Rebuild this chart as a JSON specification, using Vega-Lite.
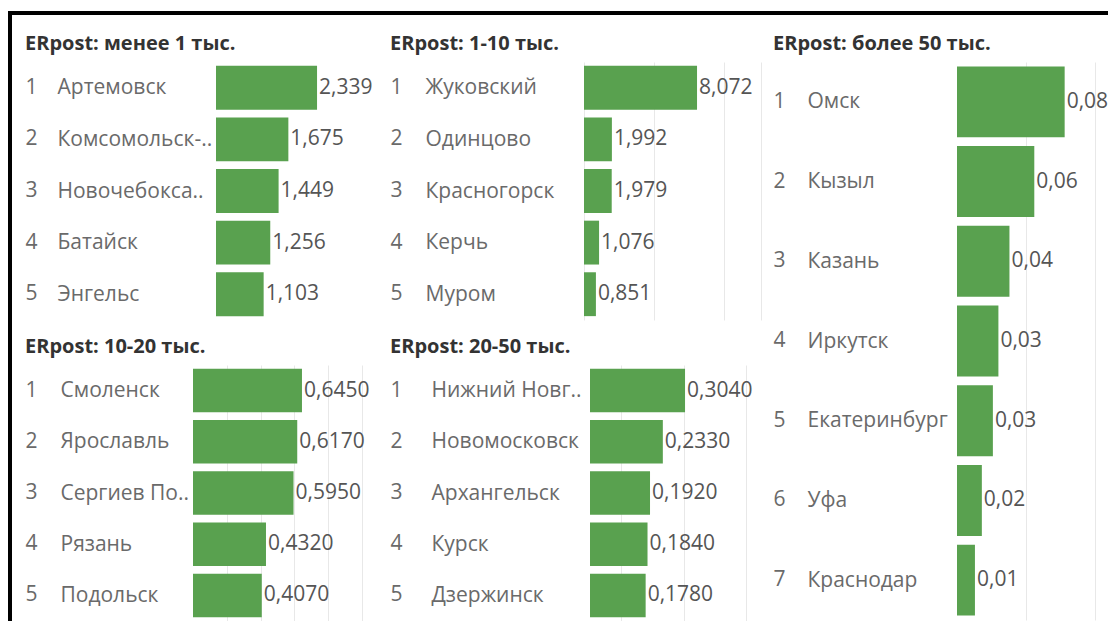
{
  "$schema": "https://vega.github.io/schema/vega-lite/v6.json",
  "autosize": {"type": "pad"},
  "padding": {"left": 8, "top": 11, "right": 0, "bottom": 0},
  "background": "white",
  "config": {
    "view": {"stroke": null},
    "locale": {"number": {"decimal": ",", "thousands": " ", "grouping": [3], "currency": ["", ""]}},
    "title": {"font": "Open Sans", "fontSize": 20, "fontWeight": "bold", "color": "#333333", "anchor": "start", "frame": "bounds", "offset": 8},
    "axis": {"labelFont": "Open Sans", "labelFontSize": 21, "labelColor": "#6a6a6a", "ticks": false, "tickSize": 0, "domain": false, "labelOverlap": false, "labelLimit": 400, "gridColor": "#e8e8e8"},
    "text": {"font": "Open Sans", "fontSize": 21, "color": "#555555"},
    "bar": {"color": "#59a14f"}
  },
  "datasets": {
    "p1": [
      {"rank": 1, "city": "Артемовск", "value": 2.339},
      {"rank": 2, "city": "Комсомольск-..", "value": 1.675},
      {"rank": 3, "city": "Новочебокса..", "value": 1.449},
      {"rank": 4, "city": "Батайск", "value": 1.256},
      {"rank": 5, "city": "Энгельс", "value": 1.103}
    ],
    "p2": [
      {"rank": 1, "city": "Жуковский", "value": 8.072},
      {"rank": 2, "city": "Одинцово", "value": 1.992},
      {"rank": 3, "city": "Красногорск", "value": 1.979},
      {"rank": 4, "city": "Керчь", "value": 1.076},
      {"rank": 5, "city": "Муром", "value": 0.851}
    ],
    "p3": [
      {"rank": 1, "city": "Омск", "value": 0.078},
      {"rank": 2, "city": "Кызыл", "value": 0.056},
      {"rank": 3, "city": "Казань", "value": 0.038},
      {"rank": 4, "city": "Иркутск", "value": 0.030},
      {"rank": 5, "city": "Екатеринбург", "value": 0.026},
      {"rank": 6, "city": "Уфа", "value": 0.018},
      {"rank": 7, "city": "Краснодар", "value": 0.013}
    ],
    "p4": [
      {"rank": 1, "city": "Смоленск", "value": 0.645},
      {"rank": 2, "city": "Ярославль", "value": 0.617},
      {"rank": 3, "city": "Сергиев По..", "value": 0.595},
      {"rank": 4, "city": "Рязань", "value": 0.432},
      {"rank": 5, "city": "Подольск", "value": 0.407}
    ],
    "p5": [
      {"rank": 1, "city": "Нижний Новг..", "value": 0.304},
      {"rank": 2, "city": "Новомосковск", "value": 0.233},
      {"rank": 3, "city": "Архангельск", "value": 0.192},
      {"rank": 4, "city": "Курск", "value": 0.184},
      {"rank": 5, "city": "Дзержинск", "value": 0.178}
    ],
    "empty": []
  },
  "spacing": 0,
  "hconcat": [
    {
      "width": 4, "height": 610,
      "view": {"fill": "black", "stroke": null},
      "data": {"name": "empty"},
      "mark": {"type": "text", "text": ""},
      "encoding": {}
    },
    {
      "spacing": 19,
      "vconcat": [
        {
          "width": 1096, "height": 4,
          "view": {"fill": "black", "stroke": null},
          "data": {"name": "empty"},
          "mark": {"type": "text", "text": ""},
          "encoding": {}
        },
        {
          "spacing": 12,
          "hconcat": [
            {
              "spacing": 17,
              "vconcat": [
                {
                  "spacing": 12,
                  "hconcat": [
                    {
                      "width": 1, "height": 1,
                      "data": {"name": "empty"},
                      "mark": {"type": "text", "text": ""},
                      "encoding": {}
                    },
                    {
                      "title": "ERpost: менее 1 тыс.",
                      "width": 162, "height": 258,
                      "data": {"name": "p1"},
                      "layer": [
                        {
                          "mark": {"type": "bar"},
                          "encoding": {
                            "y": {"field": "rank", "type": "ordinal", "scale": {"paddingInner": 0.15, "paddingOuter": 0.075}, "axis": {"orient": "left", "title": null, "labelAlign": "left", "labelPadding": 191}},
                            "x": {"field": "value", "type": "quantitative", "scale": {"domain": [0, 3.75], "nice": false}, "axis": null}
                          }
                        },
                        {
                          "mark": {"type": "text", "align": "left", "baseline": "middle", "dx": 2},
                          "encoding": {
                            "y": {"field": "city", "type": "nominal", "sort": {"field": "rank"}, "scale": {"paddingInner": 0.15, "paddingOuter": 0.075}, "axis": {"orient": "left", "title": null, "labelAlign": "left", "labelPadding": 159}},
                            "x": {"field": "value", "type": "quantitative"},
                            "text": {"field": "value", "type": "quantitative", "format": ".3f"}
                          }
                        }
                      ],
                      "resolve": {"scale": {"y": "independent"}}
                    },
                    {
                      "title": "ERpost: 1-10 тыс.",
                      "width": 177, "height": 258,
                      "data": {"name": "p2"},
                      "layer": [
                        {
                          "mark": {"type": "bar"},
                          "encoding": {
                            "y": {"field": "rank", "type": "ordinal", "scale": {"paddingInner": 0.15, "paddingOuter": 0.075}, "axis": {"orient": "left", "title": null, "labelAlign": "left", "labelPadding": 194}},
                            "x": {"field": "value", "type": "quantitative", "scale": {"domain": [0, 12.64], "nice": false}, "axis": {"grid": true, "labels": false, "title": null, "values": [0, 5, 10, 12.64]}}
                          }
                        },
                        {
                          "mark": {"type": "text", "align": "left", "baseline": "middle", "dx": 2},
                          "encoding": {
                            "y": {"field": "city", "type": "nominal", "sort": {"field": "rank"}, "scale": {"paddingInner": 0.15, "paddingOuter": 0.075}, "axis": {"orient": "left", "title": null, "labelAlign": "left", "labelPadding": 159}},
                            "x": {"field": "value", "type": "quantitative"},
                            "text": {"field": "value", "type": "quantitative", "format": ".3f"}
                          }
                        }
                      ],
                      "resolve": {"scale": {"y": "independent"}}
                    }
                  ]
                },
                {
                  "spacing": 12,
                  "hconcat": [
                    {
                      "width": 1, "height": 1,
                      "data": {"name": "empty"},
                      "mark": {"type": "text", "text": ""},
                      "encoding": {}
                    },
                    {
                      "title": "ERpost: 10-20 тыс.",
                      "width": 185, "height": 256,
                      "data": {"name": "p4"},
                      "layer": [
                        {
                          "mark": {"type": "bar"},
                          "encoding": {
                            "y": {"field": "rank", "type": "ordinal", "scale": {"paddingInner": 0.15, "paddingOuter": 0.075}, "axis": {"orient": "left", "title": null, "labelAlign": "left", "labelPadding": 168}},
                            "x": {"field": "value", "type": "quantitative", "scale": {"domain": [0, 1.095], "nice": false}, "axis": {"grid": true, "labels": false, "title": null, "values": [0.2, 0.4, 0.6, 0.8, 1.0]}}
                          }
                        },
                        {
                          "mark": {"type": "text", "align": "left", "baseline": "middle", "dx": 2},
                          "encoding": {
                            "y": {"field": "city", "type": "nominal", "sort": {"field": "rank"}, "scale": {"paddingInner": 0.15, "paddingOuter": 0.075}, "axis": {"orient": "left", "title": null, "labelAlign": "left", "labelPadding": 133}},
                            "x": {"field": "value", "type": "quantitative"},
                            "text": {"field": "value", "type": "quantitative", "format": ".4f"}
                          }
                        }
                      ],
                      "resolve": {"scale": {"y": "independent"}}
                    },
                    {
                      "title": "ERpost: 20-50 тыс.",
                      "width": 171, "height": 256,
                      "data": {"name": "p5"},
                      "layer": [
                        {
                          "mark": {"type": "bar"},
                          "encoding": {
                            "y": {"field": "rank", "type": "ordinal", "scale": {"paddingInner": 0.15, "paddingOuter": 0.075}, "axis": {"orient": "left", "title": null, "labelAlign": "left", "labelPadding": 200}},
                            "x": {"field": "value", "type": "quantitative", "scale": {"domain": [0, 0.547], "nice": false}, "axis": {"grid": true, "labels": false, "title": null, "values": [0.1, 0.2, 0.3, 0.4, 0.5, 0.547]}}
                          }
                        },
                        {
                          "mark": {"type": "text", "align": "left", "baseline": "middle", "dx": 2},
                          "encoding": {
                            "y": {"field": "city", "type": "nominal", "sort": {"field": "rank"}, "scale": {"paddingInner": 0.15, "paddingOuter": 0.075}, "axis": {"orient": "left", "title": null, "labelAlign": "left", "labelPadding": 159}},
                            "x": {"field": "value", "type": "quantitative"},
                            "text": {"field": "value", "type": "quantitative", "format": ".4f"}
                          }
                        }
                      ],
                      "resolve": {"scale": {"y": "independent"}}
                    }
                  ]
                }
              ]
            },
            {
              "title": "ERpost: более 50 тыс.",
              "width": 151, "height": 558,
              "data": {"name": "p3"},
              "layer": [
                {
                  "mark": {"type": "bar"},
                  "encoding": {
                    "y": {"field": "rank", "type": "ordinal", "scale": {"paddingInner": 0.11, "paddingOuter": 0.055}, "axis": {"orient": "left", "title": null, "labelAlign": "left", "labelPadding": 184}},
                    "x": {"field": "value", "type": "quantitative", "scale": {"domain": [0, 0.1094], "nice": false}, "axis": {"grid": true, "labels": false, "title": null, "values": [0.05, 0.1]}}
                  }
                },
                {
                  "mark": {"type": "text", "align": "left", "baseline": "middle", "dx": 2, "clip": true},
                  "encoding": {
                    "y": {"field": "city", "type": "nominal", "sort": {"field": "rank"}, "scale": {"paddingInner": 0.11, "paddingOuter": 0.055}, "axis": {"orient": "left", "title": null, "labelAlign": "left", "labelPadding": 150}},
                    "x": {"field": "value", "type": "quantitative"},
                    "text": {"field": "value", "type": "quantitative", "format": ".2f"}
                  }
                }
              ],
              "resolve": {"scale": {"y": "independent"}}
            }
          ]
        }
      ]
    }
  ]
}
